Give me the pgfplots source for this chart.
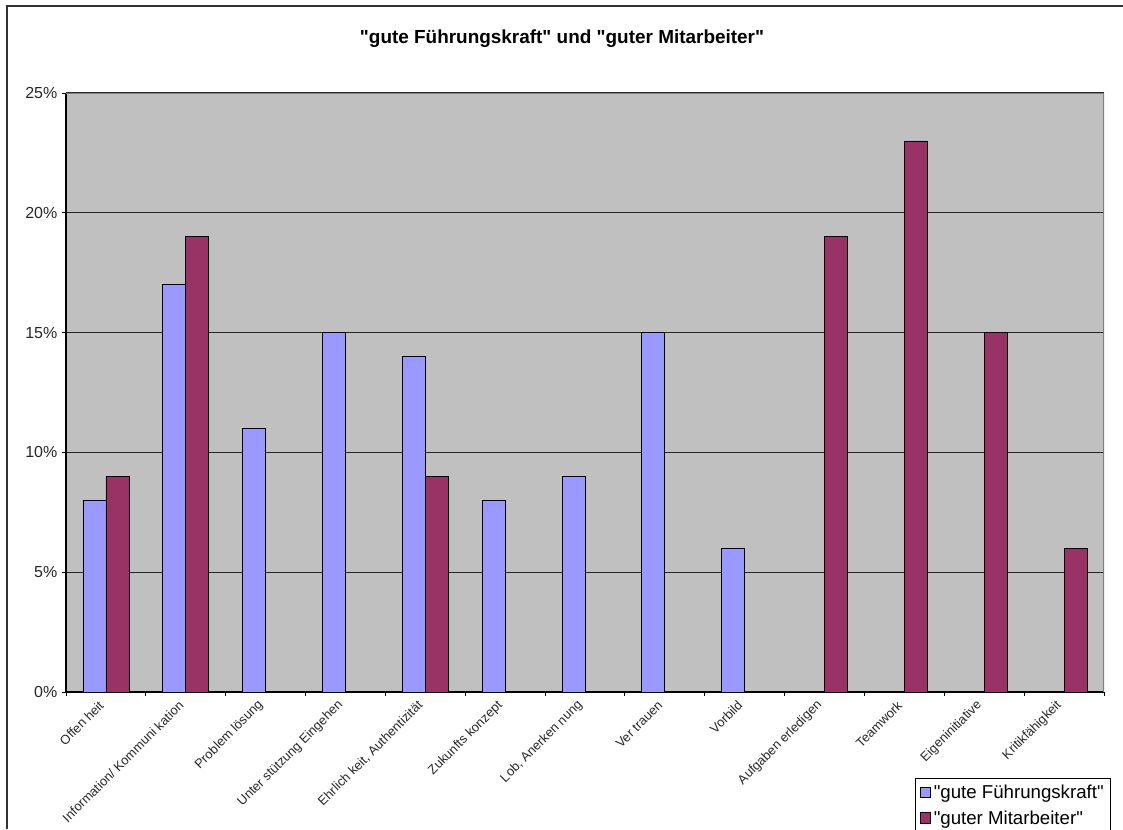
\documentclass[border=0pt]{standalone}
\usepackage{fontspec}
\setmainfont{Liberation Sans}
\usepackage{pgfplots}
\pgfplotsset{compat=1.18}
\definecolor{fkblue}{HTML}{9999FF}
\definecolor{mared}{HTML}{993366}
\definecolor{plotbg}{HTML}{C0C0C0}
\newcommand{\q}{\textquotedbl}

\begin{document}
\begin{tikzpicture}[x=1pt,y=1pt]
\useasboundingbox (0,0) rectangle (842.25,-621.75);
% outer chart frame
\draw[line width=0.9pt, black!80] (5.25,-621.75) -- (5.25,-4.5) -- (842.25,-4.5);
% title
\node[font=\bfseries\fontsize{14.2}{16}\selectfont, anchor=base] at (421.5,-32.25)
  {\q gute Führungskraft\q{} und \q guter Mitarbeiter\q};
\begin{axis}[
  at={(49.5pt,-519pt)}, anchor=south west,
  scale only axis, width=778.5pt, height=449.25pt,
  xmin=-0.5, xmax=12.5, ymin=0, ymax=25,
  axis background/.style={fill=plotbg},
  axis lines=left, axis line style={-, black, line width=0.9pt},
  tick align=outside, major tick length=3pt,
  tick style={black, line width=0.7pt},
  xtick={-0.5,0.5,...,12.5},
  x tick label as interval,
  xticklabels={Offen heit, Information/ Kommuni kation, Problem lösung,
    Unter stützung Eingehen, {Ehrlich keit, Authentizität}, Zukunfts konzept,
    {Lob, Anerken nung}, Ver trauen, Vorbild, Aufgaben erledigen, Teamwork,
    Eigeninitiative, Kritikfähigkeit},
  xticklabel style={font=\fontsize{9.7}{12}\selectfont, text=black!85,
    yshift=-3pt, xshift=-1pt, rotate=45, anchor=east},
  ytick={0,5,...,25},
  yticklabels={0\%,5\%,10\%,15\%,20\%,25\%},
  yticklabel style={font=\fontsize{12}{14}\selectfont, text=black!85},
  ymajorgrids, major grid style={black!85, line width=0.8pt},
  legend style={at={(rel axis cs:0.818,-0.1436)}, anchor=north west,
    draw=black, line width=0.8pt, fill=white,
    font=\fontsize{14}{16}\selectfont, row sep=3.5pt,
    inner xsep=3pt, inner ysep=3pt},
  legend cell align=left,
  legend image code/.code={\draw[#1, line width=0.6pt] (0pt,-3.5pt) rectangle (8pt,4.5pt);},
]
% "gute Führungskraft"
\addplot[ybar, bar width=17.25pt, bar shift=-8.625pt, fill=fkblue, draw=black, line width=0.6pt]
  coordinates {(0,8) (1,17) (2,11) (3,15) (4,14) (5,8) (6,9) (7,15) (8,6)};
\addlegendentry{\q gute Führungskraft\q}
% "guter Mitarbeiter"
\addplot[ybar, bar width=17.25pt, bar shift=8.625pt, fill=mared, draw=black, line width=0.6pt]
  coordinates {(0,9) (1,19) (4,9) (9,19) (10,23) (11,15) (12,6)};
\addlegendentry{\q guter Mitarbeiter\q}
% grey border on top and right of the plot area
\draw[gray, line width=1pt] (rel axis cs:0,1) -- (rel axis cs:1,1) -- (rel axis cs:1,0);
\end{axis}
\end{tikzpicture}
\end{document}
